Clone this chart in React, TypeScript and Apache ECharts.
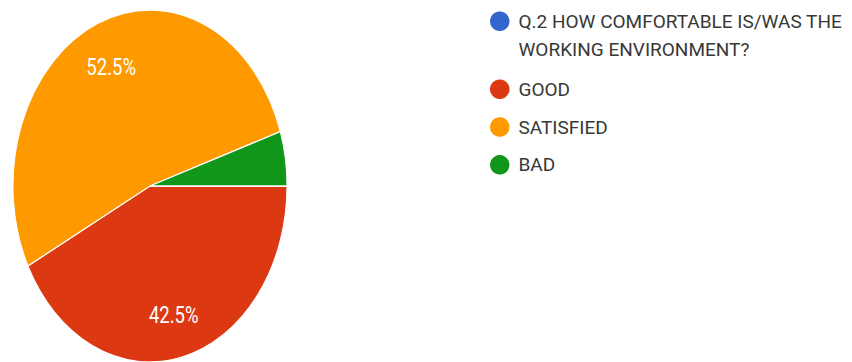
import React, { useEffect, useRef } from "react";
import * as echarts from "echarts";

const categories = [
  "Q.2 HOW COMFORTABLE IS/WAS THE WORKING ENVIRONMENT?",
  "GOOD",
  "SATISFIED",
  "BAD",
];
const counts = [0, 17, 21, 2];
const questionLines = ["Q.2 HOW COMFORTABLE IS/WAS THE", "WORKING ENVIRONMENT?"];

const palette = ["#3366cc", "#dc3912", "#ff9900", "#109618"];

const K = 176 / 137; // vertical stretch of the pie
const PIE_W = 300;
const PIE_H = 362 / K;
const CX = 150;
const CY = 186 / K;
const R = 137;

export default function App() {
  const pieRef = useRef<HTMLDivElement>(null);
  const legRef = useRef<HTMLDivElement>(null);

  useEffect(() => {
    if (!pieRef.current || !legRef.current) return;
    const data = categories.map((name, i) => ({ name, value: counts[i] }));

    const pie = echarts.init(pieRef.current, null, { renderer: "svg" });
    pie.setOption({
      animation: false,
      color: palette,
      series: [
        {
          type: "pie",
          center: [CX, CY],
          radius: R,
          startAngle: 0,
          clockwise: true,
          data,
          silent: true,
          label: { show: false },
          labelLine: { show: false },
          itemStyle: { borderColor: "#ffffff", borderWidth: 1 },
        },
        {
          type: "pie",
          center: [CX, CY + 1.2],
          radius: [60, R],
          startAngle: 0,
          clockwise: true,
          data,
          silent: true,
          itemStyle: { color: "rgba(0,0,0,0)" },
          labelLine: { show: false },
          label: {
            show: true,
            position: "inside",
            color: "#ffffff",
            fontFamily: "Roboto",
            fontSize: 18.5,
            formatter: (p: any) => (p.percent >= 10 ? p.percent.toFixed(1) + "%" : ""),
          },
        },
      ],
    });

    const leg = echarts.init(legRef.current, null, { renderer: "svg" });
    const commonLegend = {
      orient: "vertical",
      left: 490,
      padding: 0,
      icon: "circle",
      itemWidth: 19.5,
      itemHeight: 22.5,
      symbolKeepAspect: false,
      selectedMode: false,
    };
    leg.setOption({
      animation: false,
      color: palette,
      legend: [
        {
          ...commonLegend,
          top: -21.3,
          data: [categories[0]],
          formatter: () => "\n" + questionLines.join("\n"),
          textStyle: {
            fontFamily: "Roboto",
            fontSize: 19,
            color: "#383838",
            lineHeight: 28.4,
            padding: [0, 0, 0, 4],
          },
        },
        {
          ...commonLegend,
          top: 79.5,
          itemGap: 18.3,
          data: categories.slice(1),
          textStyle: {
            fontFamily: "Roboto",
            fontSize: 19,
            color: "#383838",
            padding: [0, 0, 0, 4],
          },
        },
      ],
      series: [
        {
          type: "pie",
          center: [-80, -80],
          radius: 1,
          silent: true,
          data,
          label: { show: false },
          labelLine: { show: false },
        },
      ],
    });

    return () => {
      pie.dispose();
      leg.dispose();
    };
  }, []);

  return (
    <div style={{ position: "fixed", left: 0, top: 0, width: 852, height: 362, background: "#fff", overflow: "hidden" }}>
      <div
        ref={pieRef}
        style={{
          position: "absolute",
          left: 0,
          top: 0,
          width: PIE_W,
          height: PIE_H,
          transform: `scaleY(${K})`,
          transformOrigin: "0 0",
        }}
      />
      <div ref={legRef} style={{ position: "absolute", left: 0, top: 0, width: 852, height: 362 }} />
    </div>
  );
}
